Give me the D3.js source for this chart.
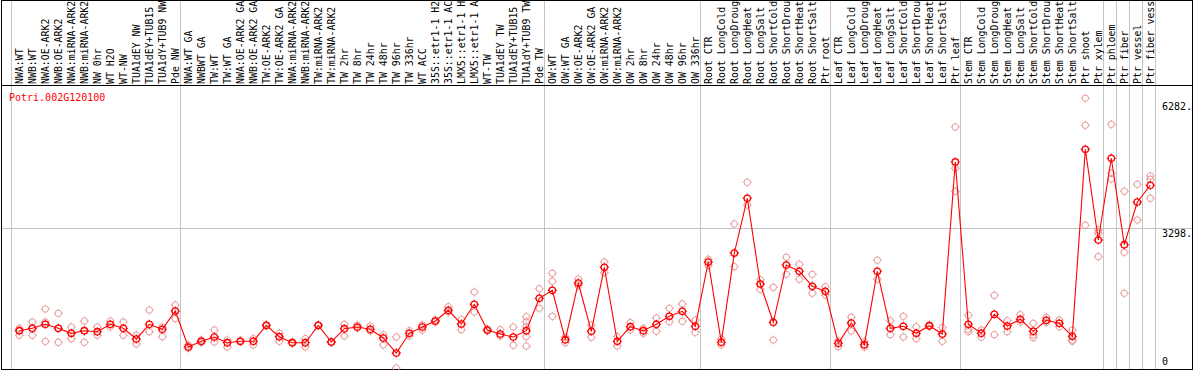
<!DOCTYPE html>
<html><head><meta charset="utf-8">
<script src="https://cdn.jsdelivr.net/npm/d3@7"></script>
<style>html,body{margin:0;padding:0;background:#fff;overflow:hidden}</style>
</head><body><svg id="c" width="1194" height="370"></svg>
<script>
const geneId = "Potri.002G120100";
const categories = [
"NWA:WT","NWB:WT","NWA:OE-ARK2","NWB:OE-ARK2","NWA:miRNA-ARK2","NWB:miRNA-ARK2","NW 0hr","WT H2O","WT-NW","TUA1dEY NW","TUA1dEY+TUB15 NW","TUA1dY+TUB9 NW","Pde NW",
"NWA:WT GA","NWBWT GA","TW:WT","TW:WT GA","NWA:OE-ARK2 GA","NWB:OE-ARK2 GA","TW:OE-ARK2","TW:OE-ARK2 GA","NWA:miRNA-ARK2 GA","NWB:miRNA-ARK2 GA","TW:miRNA-ARK2","TW:miRNA-ARK2 GA","TW 2hr","TW 8hr","TW 24hr","TW 48hr","TW 96hr","TW 336hr","WT ACC","35S::etr1-1 H2O","35S::etr1-1 ACC","LMX5::etr1-1 H2O","LMX5::etr1-1 ACC","WT-TW","TUA1dEY TW","TUA1dEY+TUB15 TW","TUA1dY+TUB9 TW","Pde TW",
"OW:WT","OW:WT GA","OW:OE-ARK2","OW:OE-ARK2 GA","OW:miRNA-ARK2","OW:miRNA-ARK2 GA","OW 2hr","OW 8hr","OW 24hr","OW 48hr","OW 96hr","OW 336hr",
"Root CTR","Root LongCold","Root LongDrought","Root LongHeat","Root LongSalt","Root ShortCold","Root ShortDrought","Root ShortHeat","Root ShortSalt","Ptr root",
"Leaf CTR","Leaf LongCold","Leaf LongDrought","Leaf LongHeat","Leaf LongSalt","Leaf ShortCold","Leaf ShortDrought","Leaf ShortHeat","Leaf ShortSalt","Ptr leaf",
"Stem CTR","Stem LongCold","Stem LongDrought","Stem LongHeat","Stem LongSalt","Stem ShortCold","Stem ShortDrought","Stem ShortHeat","Stem ShortSalt","Ptr shoot","Ptr xylem",
"Ptr phloem","Ptr fiber","Ptr vessel","Ptr fiber vessel"
];
const means = [
881,937,1032,937,819,881,857,1032,937,685,1032,914,1346,
496,630,732,597,630,630,1008,739,597,597,1008,614,928,968,914,708,354,819,968,1110,1362,1039,1504,897,803,732,881,1646,
1834,668,2007,866,2378,630,975,881,1032,1221,1339,985,
2503,607,2715,4007,1983,1079,2432,2283,1929,1811,
583,1062,550,2283,937,985,819,999,803,4864,
1032,819,1268,992,1150,866,1126,1055,748,5164,3022,
4951,2911,3919,4314
];
const replicates = [
[937,772,881],[1086,772,937],[1393,1086,630],[1291,607,937],[968,692],[1110,607,881],[968,772],[1110,968],[1086,772],[772,567],[1369,857],[968,739],[1487,1164],
[543,472],[661,602],[897,614],[661,496],[649,614],[692,543],[1015,992],[819,630],[614,583],[692,496],[1015,996],[626,602],[1032,755],[1015,944],[992,874],[786,543],[732,0],[881,755],[897,1015],[1133,1086],[1447,1322],[1140,904],[1794,1322],[921,874],[904,755],[968,536],[1211,1093,975,739,519],[1872,1410],
[2236,2047,1221],[732,597],[2101,1943],[1008,725],[2503,2250],[739,519],[1070,897],[937,819],[1181,866],[1410,1093],[1511,1103],[1133,843],
[2566,2425],[685,543],[3400,2392],[4384,3848],[2078,1858],[1905,661],[2614,2212],[2448,2094],[2212,1764],[1919,1724],
[503,637],[1197,874],[621,496],[2543,2094],[1117,786],[1221,732],[975,692],[1015,980],[951,630],[5690,4715,4172],
[1244,914,857],[897,725],[1716,786],[1117,857],[1258,1086],[1055,779,715],[1197,1079],[1133,975],[897,661,630],[6368,5730,3369],[3258,3180,2628],
[5754,4597,4462],[4172,2732,1764],[4337,3494],[4533,4455,4007]
];
const groupStarts = [0,13,41,53,63,73,84,85,86,87,88];
const yTicks = [6282, 3298, 0];
const yTickLabels = ["6282.", "3298.", "0"];
const gridValues = [3298];

const W = 1194, H = 370;
const font = "'DejaVu Sans Mono', monospace";
const svg = d3.select("#c");
const step = 13, x0 = 12.8;
const x = d3.scaleBand().domain(categories).range([x0, x0 + step * categories.length]);
const cx = c => x(c) + x.bandwidth() / 2;
const y = d3.scaleLinear().domain([0, 3298]).range([368, 228.3]);

svg.append("rect").attr("width", W).attr("height", H).attr("fill", "#fff");

svg.selectAll("line.grid").data(gridValues).join("line")
  .attr("x1", 1).attr("x2", 1192)
  .attr("y1", d => Math.floor(y(d)) + 0.5).attr("y2", d => Math.floor(y(d)) + 0.5)
  .attr("stroke", "#c4c4c4").attr("stroke-width", 1);

const sepX = groupStarts.map(s => s < categories.length ? x(categories[s]) : x0 + step * s);
svg.selectAll("line.sep").data(sepX).join("line")
  .attr("x1", d => Math.floor(d - 1.2) + 0.5).attr("x2", d => Math.floor(d - 1.2) + 0.5)
  .attr("y1", 1).attr("y2", 369)
  .attr("stroke", "#c4c4c4").attr("stroke-width", 1);

// header labels (the header shows at most 14 characters)
svg.append("g").selectAll("text").data(categories).join("text")
  .attr("transform", d => `translate(${cx(d) + 3.6},84) rotate(-90)`)
  .attr("font-family", font).attr("font-size", 9.9).attr("fill", "#000")
  .text(d => d.length > 14 ? d.slice(0, 14).trimEnd() : d);

svg.append("rect").attr("x", 1.5).attr("y", 0.5).attr("width", 1191).attr("height", 369)
  .attr("fill", "none").attr("stroke", "#000").attr("stroke-width", 1);
svg.append("line").attr("x1", 1).attr("x2", 1193).attr("y1", 85.5).attr("y2", 85.5)
  .attr("stroke", "#000").attr("stroke-width", 1);

svg.append("text").attr("x", 9).attr("y", 100.5)
  .attr("font-family", font).attr("font-size", 10).attr("fill", "#ff0000")
  .text(geneId);

svg.selectAll("text.yl").data(yTicks).join("text")
  .attr("x", 1162).attr("y", d => Math.min(y(d) + 8.4, 365))
  .attr("font-family", font).attr("font-size", 10).attr("fill", "#000")
  .text((d, i) => yTickLabels[i]);

function markerPath(r, t) {
  return `M${r},0A${r},${r} 0 1,1 ${-r},0A${r},${r} 0 1,1 ${r},0` +
    `M0,${-r}V${-r - t}M0,${r}V${r + t}M${-r},0H${-r - t}M${r},0H${r + t}`;
}

const repData = [];
replicates.forEach((arr, i) => arr.forEach(v => repData.push({ c: categories[i], v })));
svg.append("g").selectAll("path").data(repData).join("path")
  .attr("transform", d => `translate(${cx(d.c)},${y(d.v)})`)
  .attr("d", markerPath(3.2, 1.3))
  .attr("fill", "none").attr("stroke", "#e99a9a").attr("stroke-width", 1);

const line = d3.line().x((d, i) => cx(categories[i])).y(d => y(d));
svg.append("path").datum(means).attr("d", line)
  .attr("fill", "none").attr("stroke", "#ff0000").attr("stroke-width", 1.1);

svg.append("g").selectAll("path").data(means).join("path")
  .attr("transform", (d, i) => `translate(${cx(categories[i])},${y(d)})`)
  .attr("d", markerPath(3.2, 1.3))
  .attr("fill", "none").attr("stroke", "#ff0000").attr("stroke-width", 1.3);
</script>
</body></html>
